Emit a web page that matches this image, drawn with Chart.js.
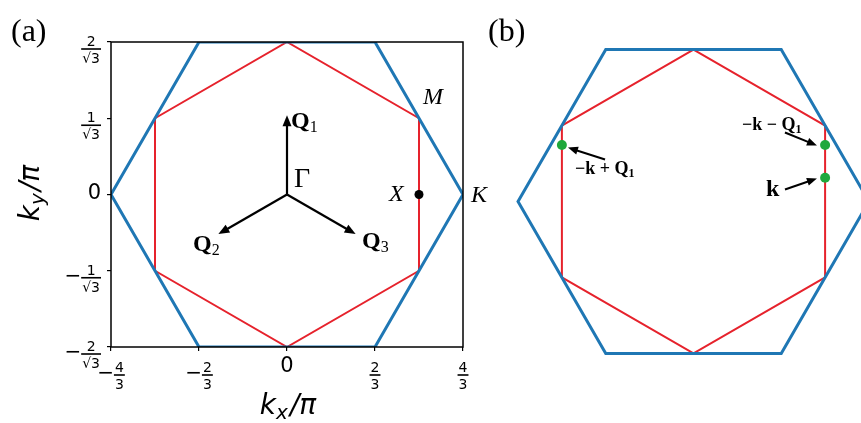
<!DOCTYPE html>
<html>
<head>
<meta charset="utf-8">
<script src="https://cdn.jsdelivr.net/npm/chart.js@4"></script>
<style>
  body { margin: 0; background: #fff; }
  #wrap { position: relative; width: 861px; height: 423px; overflow: hidden; }
  canvas { position: absolute; top: 0; }
  #chartA { left: 0; }
  #chartB { left: 480px; }
</style>
</head>
<body>
<div id="wrap">
  <canvas id="chartA" width="490" height="423"></canvas>
  <canvas id="chartB" width="381" height="423"></canvas>
</div>
<script>
const s3 = Math.sqrt(3);

// tick positions and labels of panel (a)
const xTickVals = [-4/3, -2/3, 0, 2/3, 4/3];
const xTickLabels = ['−4/3', '−2/3', '0', '2/3', '4/3'];
const yTickVals = [-2/s3, -1/s3, 0, 1/s3, 2/s3];
const yTickLabels = ['−2/√3', '−1/√3', '0', '1/√3', '2/√3'];

// outer (blue) and inner (red) hexagons, closed
const blueX = [4/3, 2/3, -2/3, -4/3, -2/3, 2/3, 4/3];
const blueY = [0, 2/s3, 2/s3, 0, -2/s3, -2/s3, 0];
const redX = [0, 1, 1, 0, -1, -1, 0];
const redY = [2/s3, 1/s3, -1/s3, -2/s3, -1/s3, 1/s3, 2/s3];

// X point in panel (a)
const xPointX = [1];
const xPointY = [0];

// Q vectors drawn from Gamma
const qNames = ['1', '2', '3'];
const qX = [0, -0.52, 0.52];
const qY = [0.6, -0.3, -0.3];

// green momenta in panel (b)
const kNames = ['−k + Q', '−k − Q', 'k'];
const kX = [-1, 1, 1];
const kY = [0.43, 0.43, 0.18];

// arrows in panel (b): tail -> head
const kArrowX0 = [-0.672, 0.695, 0.695];
const kArrowY0 = [0.319, 0.524, 0.091];
const kArrowX1 = [-0.954, 0.938, 0.938];
const kArrowY1 = [0.41, 0.426, 0.175];

const pts = (xs, ys) => xs.map((v, i) => ({ x: v, y: ys[i] }));

function drawArrow(ctx, x0, y0, x1, y1, lw, hl, hw) {
    const a = Math.atan2(y1 - y0, x1 - x0);
    const c = Math.cos(a), s = Math.sin(a);
    ctx.strokeStyle = '#000';
    ctx.fillStyle = '#000';
    ctx.lineWidth = lw;
    ctx.beginPath();
    ctx.moveTo(x0, y0);
    ctx.lineTo(x1 - hl * 0.7 * c, y1 - hl * 0.7 * s);
    ctx.stroke();
    ctx.beginPath();
    ctx.moveTo(x1, y1);
    ctx.lineTo(x1 - hl * c + hw * s, y1 - hl * s - hw * c);
    ctx.lineTo(x1 - hl * c - hw * s, y1 - hl * s + hw * c);
    ctx.closePath();
    ctx.fill();
}

function drawTickLabel(ctx, label, px, barY, align) {
    ctx.fillStyle = '#000';
    if (label.indexOf('/') < 0) {
        ctx.font = '21px "DejaVu Sans"';
        ctx.textAlign = align;
        ctx.textBaseline = 'middle';
        ctx.fillText(label, px, barY - 8);
        return;
    }
    const neg = label[0] === '−';
    const [num, den] = label.replace('−', '').split('/');
    ctx.font = '14px "DejaVu Sans"';
    const fw = Math.max(ctx.measureText(num).width, ctx.measureText(den).width) + 2;
    ctx.font = '20px "DejaVu Sans"';
    const mw = neg ? ctx.measureText('−').width : 0;
    const total = mw + fw;
    const left = align === 'right' ? px - total : px - total / 2;
    if (neg) {
        ctx.textAlign = 'left';
        ctx.textBaseline = 'middle';
        ctx.fillText('−', left, barY - 1);
    }
    const cx = left + mw + fw / 2;
    ctx.fillRect(cx - fw / 2, barY - 0.8, fw, 1.6);
    ctx.font = '14px "DejaVu Sans"';
    ctx.textAlign = 'center';
    ctx.textBaseline = 'alphabetic';
    ctx.fillText(num, cx, barY - 3);
    ctx.fillText(den, cx, barY + 14);
}

// math-like text: main part then a subscript
function subText(ctx, main, sub, x, y, mainFont, subFont, drop) {
    ctx.textAlign = 'left';
    ctx.textBaseline = 'alphabetic';
    ctx.font = mainFont;
    const w1 = ctx.measureText(main).width;
    ctx.fillText(main, x, y);
    ctx.font = subFont;
    const w2 = ctx.measureText(sub).width;
    ctx.fillText(sub, x + w1, y + drop);
    return x + w1 + w2;
}

const titleMain = 'italic 28px "DejaVu Sans"';
const titleSub = 'italic 20px "DejaVu Sans"';

function titleWidth(ctx, sub) {
    ctx.font = titleMain;
    const a = ctx.measureText('k').width + ctx.measureText('/π').width + 2;
    ctx.font = titleSub;
    return a + ctx.measureText(sub).width;
}

function drawTitle(ctx, sub, x, y) {
    const e = subText(ctx, 'k', sub, x, y, titleMain, titleSub, 5);
    ctx.font = titleMain;
    ctx.fillText('/π', e + 2, y);
}

const panelA = {
    id: 'panelA',
    afterDatasetsDraw(chart) {
        const { ctx, chartArea: a, scales: { x, y } } = chart;
        ctx.save();
        ctx.strokeStyle = '#000';
        ctx.lineWidth = 1.5;
        ctx.strokeRect(a.left, a.top, a.right - a.left, a.bottom - a.top);

        const ox = x.getPixelForValue(0), oy = y.getPixelForValue(0);
        qX.forEach((v, i) => drawArrow(ctx, ox, oy, x.getPixelForValue(v), y.getPixelForValue(qY[i]), 2.2, 11, 4.5));

        xTickVals.forEach((v, i) => drawTickLabel(ctx, xTickLabels[i], x.getPixelForValue(v), a.bottom + 28, 'center'));
        yTickVals.forEach((v, i) => drawTickLabel(ctx, yTickLabels[i], a.left - 10, y.getPixelForValue(v) + 7, 'right'));

        ctx.fillStyle = '#000';
        // Q labels
        const bq = 'bold 24px "Liberation Serif"', sq = '16px "Liberation Serif"';
        subText(ctx, 'Q', qNames[0], 291, 128, bq, sq, 4);
        subText(ctx, 'Q', qNames[1], 193, 251, bq, sq, 4);
        subText(ctx, 'Q', qNames[2], 362, 248, bq, sq, 4);

        ctx.textAlign = 'left';
        ctx.textBaseline = 'alphabetic';
        ctx.font = '28px "Liberation Serif"';
        ctx.fillText('Γ', 294, 187);
        ctx.font = 'italic 24px "Liberation Serif"';
        ctx.fillText('X', 389, 201);
        ctx.fillText('M', 423, 104);
        ctx.fillText('K', 471, 202);

        // axis titles
        const twx = titleWidth(ctx, 'x');
        drawTitle(ctx, 'x', 288 - twx / 2, 414);
        const twy = titleWidth(ctx, 'y');
        ctx.translate(39, 193);
        ctx.rotate(-Math.PI / 2);
        drawTitle(ctx, 'y', -twy / 2, 0);
        ctx.restore();

        ctx.save();
        ctx.fillStyle = '#000';
        ctx.font = '32px "Liberation Serif"';
        ctx.textAlign = 'left';
        ctx.textBaseline = 'alphabetic';
        ctx.fillText('(a)', 11, 41);
        ctx.restore();
    }
};

const panelB = {
    id: 'panelB',
    afterDatasetsDraw(chart) {
        const { ctx, scales: { x, y } } = chart;
        ctx.save();
        kArrowX0.forEach((v, i) => drawArrow(ctx,
            x.getPixelForValue(v), y.getPixelForValue(kArrowY0[i]),
            x.getPixelForValue(kArrowX1[i]), y.getPixelForValue(kArrowY1[i]), 2, 10, 4));
        ctx.fillStyle = '#000';
        const bf = 'bold 18px "Liberation Serif"', sf = 'bold 12px "Liberation Serif"';
        subText(ctx, kNames[0], '1', 575 - 480, 174, bf, sf, 3);
        subText(ctx, kNames[1], '1', 742 - 480, 130, bf, sf, 3);
        ctx.font = 'bold 24px "Liberation Serif"';
        ctx.textAlign = 'left';
        ctx.fillText(kNames[2], 766 - 480, 196);
        ctx.font = '32px "Liberation Serif"';
        ctx.fillText('(b)', 8, 41);
        ctx.restore();
    }
};

const blue = '#1f77b4';
const red = '#e6222c';

new Chart(document.getElementById('chartA'), {
    type: 'scatter',
    data: {
        datasets: [
            { data: pts(xPointX, xPointY), pointRadius: 4.5, pointBackgroundColor: '#000', pointBorderWidth: 0, showLine: false },
            { data: pts(blueX, blueY), showLine: true, borderColor: blue, borderWidth: 3, pointRadius: 0 },
            { data: pts(redX, redY), showLine: true, borderColor: red, borderWidth: 2, pointRadius: 0 },
        ],
    },
    options: {
        responsive: false,
        animation: false,
        layout: { autoPadding: false, padding: { left: 0, right: 27, top: 42, bottom: 0 } },
        plugins: { legend: { display: false }, tooltip: { enabled: false } },
        scales: {
            x: {
                type: 'linear',
                min: -4/3,
                max: 4/3,
                afterBuildTicks: s => { s.ticks = xTickVals.map(v => ({ value: v })); },
                afterFit: s => { s.height = 76; },
                ticks: { display: false },
                grid: { drawOnChartArea: false, drawTicks: true, tickLength: 4, color: '#000', lineWidth: 1.2 },
                border: { display: false },
            },
            y: {
                type: 'linear',
                min: -2/s3,
                max: 2/s3,
                afterBuildTicks: s => { s.ticks = yTickVals.map(v => ({ value: v })); },
                afterFit: s => { s.width = 111; },
                ticks: { display: false },
                grid: { drawOnChartArea: false, drawTicks: true, tickLength: 4, color: '#000', lineWidth: 1.2 },
                border: { display: false },
            },
        },
    },
    plugins: [panelA],
});

new Chart(document.getElementById('chartB'), {
    type: 'scatter',
    data: {
        datasets: [
            { data: pts(kX, kY), pointRadius: 5, pointBackgroundColor: '#1fa83c', pointBorderWidth: 0, showLine: false },
            { data: pts(blueX, blueY), showLine: true, borderColor: blue, borderWidth: 3, pointRadius: 0 },
            { data: pts(redX, redY), showLine: true, borderColor: red, borderWidth: 2, pointRadius: 0 },
        ],
    },
    options: {
        responsive: false,
        animation: false,
        layout: { autoPadding: false, padding: 0 },
        plugins: { legend: { display: false }, tooltip: { enabled: false } },
        scales: {
            x: { type: 'linear', display: false, min: -1.6223, max: 1.2728 },
            y: { type: 'linear', display: false, min: -1.6831, max: 1.5312 },
        },
    },
    plugins: [panelB],
});
</script>
</body>
</html>
